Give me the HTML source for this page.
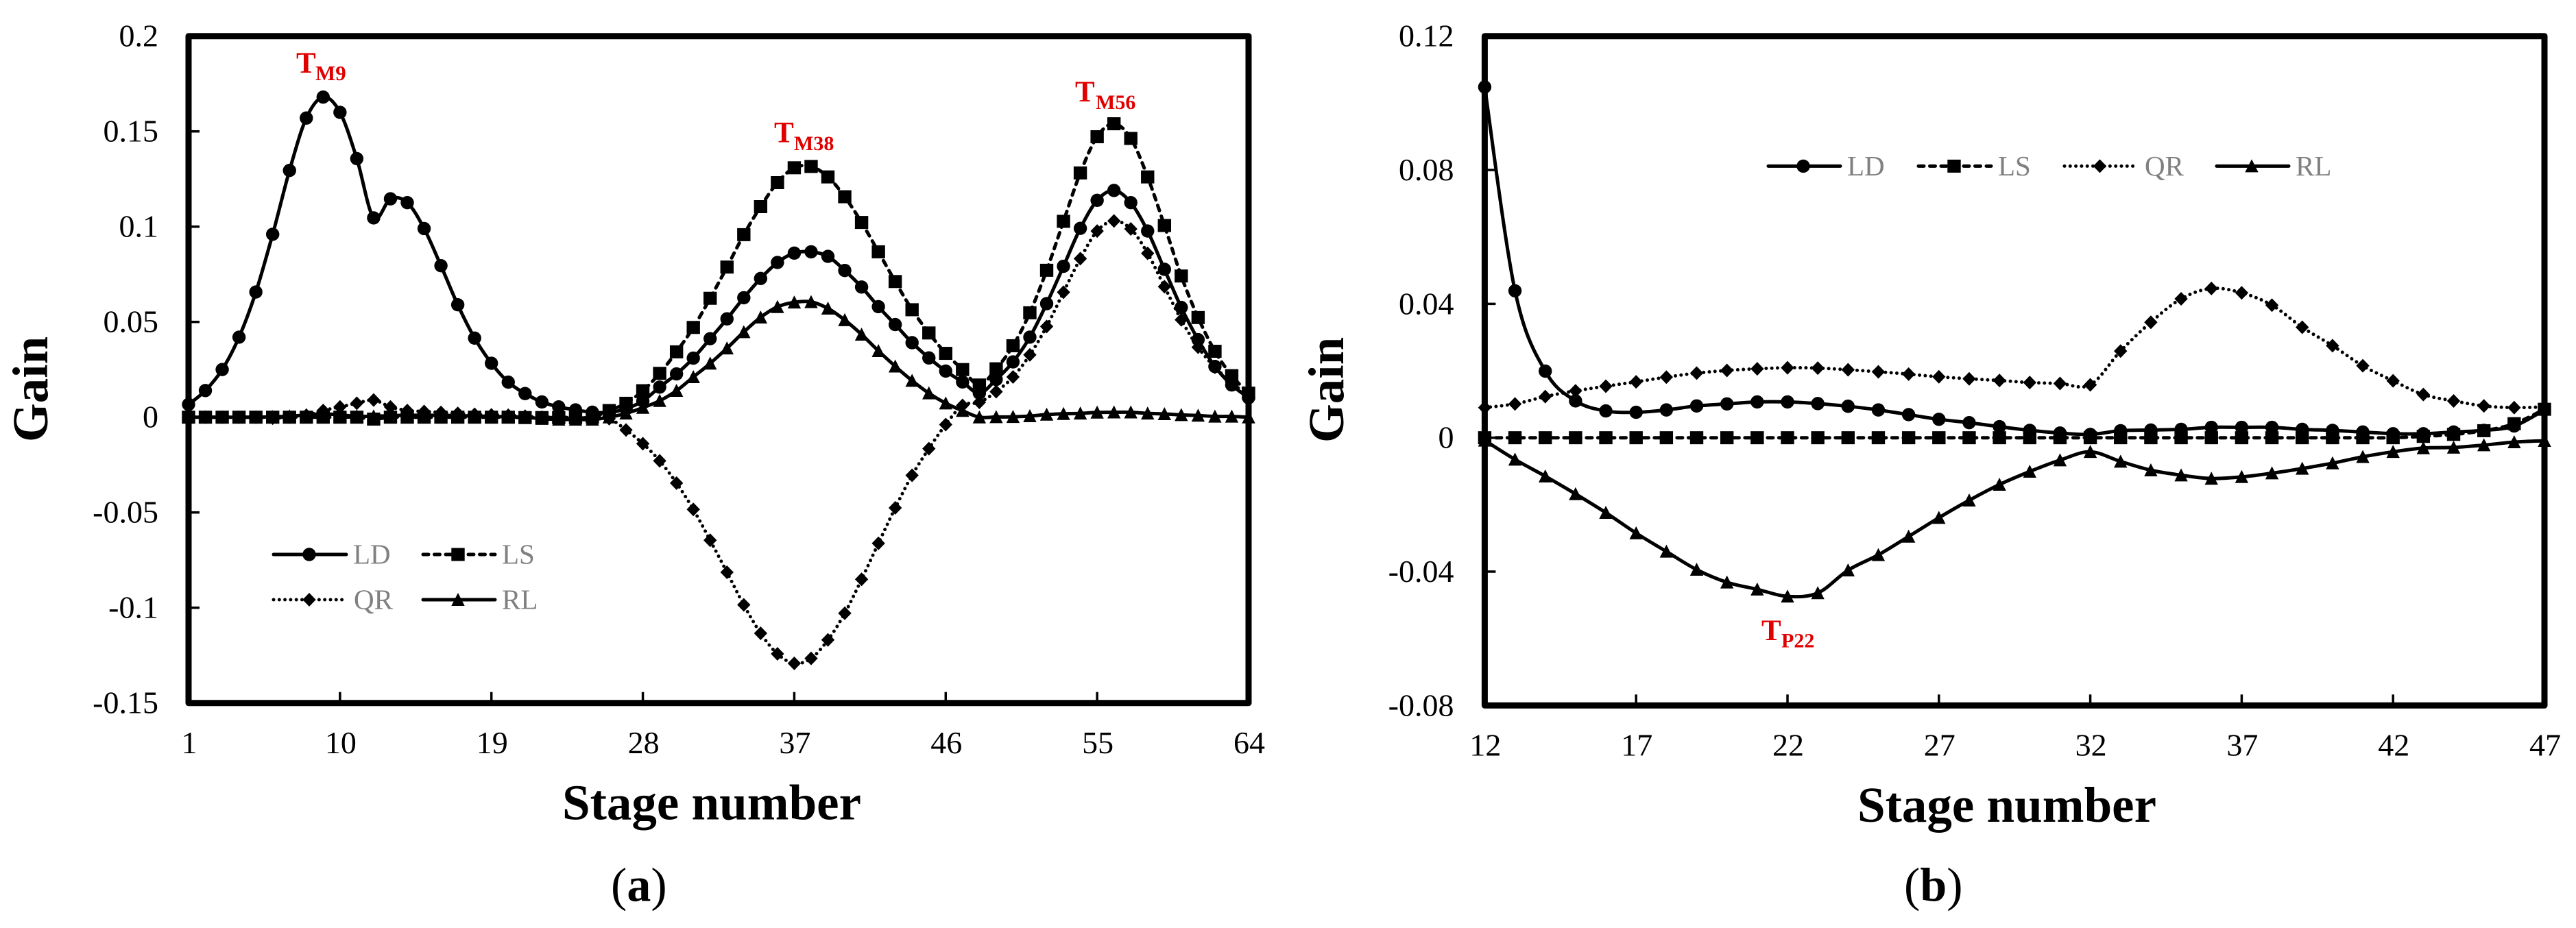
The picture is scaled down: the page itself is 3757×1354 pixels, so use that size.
<!DOCTYPE html>
<html lang="en">
<head>
<meta charset="utf-8">
<title>Gain versus stage number</title>
<style>
html,body{margin:0;padding:0;background:#fff;width:3757px;height:1354px;overflow:hidden}
svg{position:absolute;left:0;top:0;display:block}
text{font-family:"Liberation Serif",serif}
</style>
</head>
<body>
<svg id="chart" xmlns="http://www.w3.org/2000/svg" width="3757" height="1354" viewBox="0 0 3757 1354">
  <rect x="0" y="0" width="3757" height="1354" fill="#fff"/>

  <g id="panel-a">
    <rect x="275" y="52.7" width="1546" height="973" fill="none" stroke="#000" stroke-width="9" stroke-linejoin="round"/>
    <g id="a-axes"></g>
    <g id="a-series"></g>
    <g id="a-legend"></g>
    <text transform="translate(69,645) rotate(-90)" font-size="73" font-weight="700" fill="#000">Gain</text>
    <text x="820" y="1195.5" font-size="73" font-weight="700" fill="#000">Stage number</text>
    <text x="891" y="1314.5" font-size="70" fill="#000">(<tspan font-weight="700">a</tspan>)</text>
    <text fill="#e00000" font-weight="700"><tspan x="432" y="106" font-size="43">T</tspan><tspan x="460" y="117" font-size="31">M9</tspan></text>
    <text fill="#e00000" font-weight="700"><tspan x="1129" y="207.5" font-size="43">T</tspan><tspan x="1158" y="219" font-size="30">M38</tspan></text>
    <text fill="#e00000" font-weight="700"><tspan x="1568" y="148" font-size="43">T</tspan><tspan x="1598" y="159" font-size="30">M56</tspan></text>
  </g>

  <g id="panel-b">
    <rect x="2165.4" y="52.7" width="1545.6" height="976.6" fill="none" stroke="#000" stroke-width="9" stroke-linejoin="round"/>
    <g id="b-axes"></g>
    <g id="b-series"></g>
    <g id="b-legend"></g>
    <text transform="translate(1959,646) rotate(-90)" font-size="73" font-weight="700" fill="#000">Gain</text>
    <text x="2709" y="1199" font-size="73" font-weight="700" fill="#000">Stage number</text>
    <text x="2777" y="1314.5" font-size="70" fill="#000">(<tspan font-weight="700">b</tspan>)</text>
    <text fill="#e00000" font-weight="700"><tspan x="2569" y="934" font-size="43">T</tspan><tspan x="2598" y="944.5" font-size="30">P22</tspan></text>
  </g>
</svg>

<script>
// ---- panel (a) data ----
const stagesA = [1,2,3,4,5,6,7,8,9,10,11,12,13,14,15,16,17,18,19,20,21,22,23,24,25,26,27,28,29,30,31,32,33,34,35,36,37,38,39,40,41,42,43,44,45,46,47,48,49,50,51,52,53,54,55,56,57,58,59,60,61,62,63,64];
const ldA = [.0067,.014,.025,.042,.0657,.096,.1295,.157,.168,.16,.1357,.1046,.1146,.1126,.099,.0795,.059,.0415,.0283,.0184,.0124,.008,.0054,.0038,.0026,.0025,.0045,.0085,.0158,.0227,.031,.0412,.0516,.0627,.0728,.0812,.0861,.0868,.0844,.077,.0683,.058,.0486,.0391,.0311,.0242,.0185,.0126,.0198,.029,.042,.0596,.0792,.0991,.1138,.119,.1126,.0977,.0776,.0576,.0407,.0266,.0169,.0102];
const lsA = [0,0,0,0,0,0,0,0,0,0,0,-.001,0,0,0,0,0,0,0,0,-.0002,-.0002,-.0002,-.0002,0,.0035,.0073,.0139,.023,.0343,.0471,.0624,.0788,.0958,.1105,.1231,.1309,.1316,.1261,.1157,.1022,.0868,.0712,.0564,.0442,.0335,.025,.0169,.0254,.0375,.0548,.0771,.1028,.1282,.1472,.154,.1463,.1261,.1006,.0741,.0523,.0346,.0218,.0126];
const qrA = [0,0,0,0,0,-.0005,0,.001,.0035,.0054,.0073,.009,.0054,.0035,.003,.0025,.002,.0015,.0012,.001,.0005,0,0,-.0003,-.0005,-.0008,-.0067,-.0139,-.0229,-.0346,-.0484,-.0646,-.0814,-.0985,-.1134,-.1242,-.1292,-.1266,-.1169,-.1029,-.0851,-.0662,-.0476,-.0305,-.0165,-.0039,.0062,.0078,.0134,.0211,.0327,.0476,.0656,.0832,.0977,.103,.0988,.086,.0685,.0511,.0367,.0262,.0182,.011];
const rlA = [0,0,0,0,0,.0002,.0005,.0012,.0018,.0012,.0005,.0005,.0008,.001,.001,.001,.0008,.0006,.0004,.0002,0,-.0008,-.0012,-.0012,-.0012,0,.002,.005,.0086,.0139,.0211,.0282,.0362,.0447,.0524,.0579,.0603,.0605,.0571,.051,.0434,.0348,.0267,.0192,.0126,.0073,.0034,0,.0001,.0002,.0006,.0014,.0018,.002,.0025,.0026,.0026,.002,.0017,.0012,.0009,.0004,.0004,0];
const yTicksA = [0.2,0.15,0.1,0.05,0,-0.05,-0.1,-0.15];
const xTicksA = [1,10,19,28,37,46,55,64];

// ---- panel (b) data ----
const stagesB = [12,13,14,15,16,17,18,19,20,21,22,23,24,25,26,27,28,29,30,31,32,33,34,35,36,37,38,39,40,41,42,43,44,45,46,47];
const ldB = [.1048,.0439,.0199,.011,.008,.0076,.0083,.0095,.0101,.0107,.0107,.0102,.0094,.0083,.0069,.0055,.0045,.0033,.0022,.0014,.001,.0021,.0023,.0025,.0031,.0031,.0031,.0025,.0022,.0017,.0012,.0012,.0017,.0022,.0035,.0083];
const lsB = [0,0,0,0,0,0,0,0,0,0,0,0,0,0,0,0,0,0,0,0,0,0,0,0,0,0,0,0,0,0,0,.0004,.001,.0021,.0042,.0085];
const qrB = [.009,.0101,.0123,.014,.0154,.0167,.0181,.0193,.0201,.0206,.0209,.0208,.0203,.0197,.019,.0182,.0176,.0171,.0165,.0162,.0158,.0259,.0345,.0415,.0446,.0433,.0396,.033,.0275,.0215,.017,.0129,.011,.0095,.009,.0092];
const rlB = [-.0008,-.0065,-.0115,-.0168,-.0224,-.0285,-.034,-.0394,-.0432,-.0453,-.0474,-.0464,-.0396,-.035,-.0295,-.0239,-.0187,-.014,-.0101,-.0067,-.0042,-.0071,-.0097,-.0112,-.0122,-.0117,-.0106,-.0092,-.0076,-.0057,-.0042,-.0031,-.0029,-.0022,-.0013,-.0009];
const yTicksB = ["0.12","0.08","0.04","0","-0.04","-0.08"];
const xTicksB = [12,17,22,27,32,37,42,47];
const seriesNames = ["LD","LS","QR","RL"];

const SVGNS = "http://www.w3.org/2000/svg";
function el(tag, parent) {
  const n = document.createElementNS(SVGNS, tag);
  parent.appendChild(n);
  return n;
}
function linear(d0, d1, r0, r1) {
  return v => r0 + (v - d0) * (r1 - r0) / (d1 - d0);
}
const xScaleA = linear(1, 64, 275, 1821);
const yScaleA = linear(-0.15, 0.2, 1025.7, 52.7);
const xScaleB = linear(12, 47, 2165.4, 3711);
const yScaleB = linear(-0.08, 0.12, 1029.3, 52.7);

function smoothPath(stages, values, sx, sy) {
  const p = stages.map((s, i) => [sx(s), sy(values[i])]);
  let d = "M" + p[0][0].toFixed(1) + " " + p[0][1].toFixed(1);
  for (let i = 0; i < p.length - 1; i++) {
    const a = p[Math.max(i - 1, 0)], b = p[i], c = p[i + 1], e = p[Math.min(i + 2, p.length - 1)];
    const c1x = b[0] + (c[0] - a[0]) / 6, c1y = b[1] + (c[1] - a[1]) / 6;
    const c2x = c[0] - (e[0] - b[0]) / 6, c2y = c[1] - (e[1] - b[1]) / 6;
    d += "C" + c1x.toFixed(1) + " " + c1y.toFixed(1) + " " + c2x.toFixed(1) + " " + c2y.toFixed(1) + " " + c[0].toFixed(1) + " " + c[1].toFixed(1);
  }
  return d;
}
function strokeStyle(node, name) {
  node.setAttribute("fill", "none");
  node.setAttribute("stroke", "#000");
  node.setAttribute("stroke-width", "5");
  node.setAttribute("stroke-linecap", "round");
  node.setAttribute("stroke-linejoin", "round");
  if (name === "LS") node.setAttribute("stroke-dasharray", "8 8.5");
  if (name === "QR") node.setAttribute("stroke-dasharray", "0 8.3");
}
function drawMarker(parent, name, cx, cy) {
  let m;
  if (name === "LD") {
    m = el("circle", parent);
    m.setAttribute("cx", cx);
    m.setAttribute("cy", cy);
    m.setAttribute("r", 9.7);
  } else if (name === "LS") {
    m = el("rect", parent);
    m.setAttribute("x", cx - 9.7);
    m.setAttribute("y", cy - 9.5);
    m.setAttribute("width", 19.4);
    m.setAttribute("height", 19);
  } else if (name === "QR") {
    m = el("polygon", parent);
    m.setAttribute("points", [cx, cy - 10, cx + 9.7, cy, cx, cy + 10, cx - 9.7, cy].join(" "));
  } else {
    m = el("polygon", parent);
    m.setAttribute("points", [cx, cy - 10, cx + 9.7, cy + 9, cx - 9.7, cy + 9].join(" "));
  }
  m.setAttribute("fill", "#000");
  return m;
}
function drawSeries(parentId, panel, name, stages, values, sx, sy) {
  const parent = document.getElementById(parentId);
  const g = el("g", parent);
  
  
  const line = el("path", g);
  line.setAttribute("d", smoothPath(stages, values, sx, sy));
  strokeStyle(line, name);
  
  
  stages.forEach((s, i) => {
    const mark = drawMarker(g, name, sx(s), sy(values[i]));
    
    
  });
}
function drawAxes(parentId, panel, yTicks, xTicks, sx, sy, left, bottom, labelRight, xBase) {
  const parent = document.getElementById(parentId);
  yTicks.forEach(t => {
    const y = sy(Number(t));
    const tick = el("line", parent);
    tick.setAttribute("x1", left);
    tick.setAttribute("x2", left + 16);
    tick.setAttribute("y1", y);
    tick.setAttribute("y2", y);
    tick.setAttribute("stroke", "#000");
    tick.setAttribute("stroke-width", "3.5");
    
    
    const label = el("text", parent);
    label.textContent = String(t);
    label.setAttribute("x", labelRight);
    label.setAttribute("y", y + 15);
    label.setAttribute("text-anchor", "end");
    label.setAttribute("font-size", "46");
    label.setAttribute("fill", "#000");
    
    
  });
  xTicks.forEach(t => {
    const x = sx(t);
    const tick = el("line", parent);
    tick.setAttribute("x1", x);
    tick.setAttribute("x2", x);
    tick.setAttribute("y1", bottom);
    tick.setAttribute("y2", bottom - 16);
    tick.setAttribute("stroke", "#000");
    tick.setAttribute("stroke-width", "3.5");
    
    
    const label = el("text", parent);
    label.textContent = String(t);
    label.setAttribute("x", x + 1);
    label.setAttribute("y", xBase);
    label.setAttribute("text-anchor", "middle");
    label.setAttribute("font-size", "46");
    label.setAttribute("fill", "#000");
    
    
  });
}
function drawLegendEntry(parentId, panel, name, x1, x2, mx, y, tx, tb) {
  const parent = document.getElementById(parentId);
  const g = el("g", parent);
  
  
  const line = el("line", g);
  line.setAttribute("x1", x1);
  line.setAttribute("x2", x2);
  line.setAttribute("y1", y);
  line.setAttribute("y2", y);
  strokeStyle(line, name);
  
  
  const mark = drawMarker(g, name, mx, y);
  
  
  const label = el("text", g);
  label.textContent = name;
  label.setAttribute("x", tx);
  label.setAttribute("y", tb);
  label.setAttribute("font-size", "41");
  label.setAttribute("fill", "#808080");
  
  
}

drawAxes("a-axes", "panel-a", yTicksA, xTicksA, xScaleA, yScaleA, 275, 1025.7, 231, 1099);
drawAxes("b-axes", "panel-b", yTicksB, xTicksB, xScaleB, yScaleB, 2165.4, 1029.3, 2120.5, 1102.5);

drawSeries("a-series", "panel-a", seriesNames[0], stagesA, ldA, xScaleA, yScaleA);
drawSeries("a-series", "panel-a", seriesNames[1], stagesA, lsA, xScaleA, yScaleA);
drawSeries("a-series", "panel-a", seriesNames[2], stagesA, qrA, xScaleA, yScaleA);
drawSeries("a-series", "panel-a", seriesNames[3], stagesA, rlA, xScaleA, yScaleA);

drawSeries("b-series", "panel-b", seriesNames[0], stagesB, ldB, xScaleB, yScaleB);
drawSeries("b-series", "panel-b", seriesNames[1], stagesB, lsB, xScaleB, yScaleB);
drawSeries("b-series", "panel-b", seriesNames[2], stagesB, qrB, xScaleB, yScaleB);
drawSeries("b-series", "panel-b", seriesNames[3], stagesB, rlB, xScaleB, yScaleB);

drawLegendEntry("a-legend", "panel-a", "LD", 399, 505, 451, 809, 515, 822.7);
drawLegendEntry("a-legend", "panel-a", "LS", 617, 722, 668, 809, 732, 822.7);
drawLegendEntry("a-legend", "panel-a", "QR", 399, 500, 451, 875, 516, 888.7);
drawLegendEntry("a-legend", "panel-a", "RL", 617, 722, 668, 875, 732, 888.7);

drawLegendEntry("b-legend", "panel-b", "LD", 2579, 2684, 2630, 242.4, 2694, 255.8);
drawLegendEntry("b-legend", "panel-b", "LS", 2798, 2904, 2850, 242.4, 2914, 255.8);
drawLegendEntry("b-legend", "panel-b", "QR", 3011, 3112, 3062.5, 242.4, 3128, 255.8);
drawLegendEntry("b-legend", "panel-b", "RL", 3233, 3338, 3284, 242.4, 3348, 255.8);
</script>
</body>
</html>
